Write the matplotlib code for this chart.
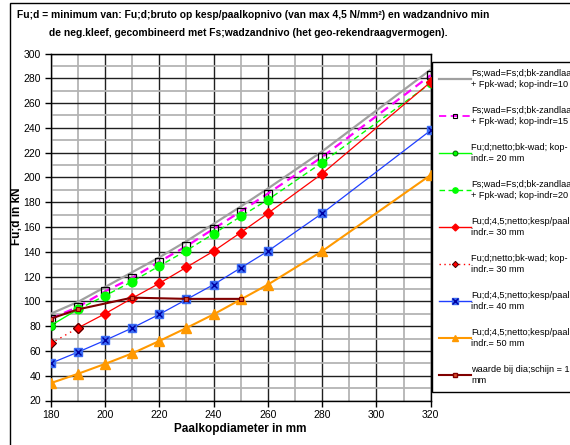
import numpy as np
import matplotlib
matplotlib.use("Agg")
import matplotlib.pyplot as plt
from matplotlib.lines import Line2D
from matplotlib.legend_handler import HandlerTuple
from matplotlib.ticker import MultipleLocator

plt.rcParams['font.family'] = ['Liberation Sans', 'DejaVu Sans']

# ---------------- data ----------------
diam = [180, 190, 200, 210, 220, 230, 240, 250, 260, 280, 320]
fs_wad_10 = [90, 99.5, 111.5, 123.5, 135.5, 148.5, 162.5, 176.5, 191, 221, 287]
fs_wad_15 = [86, 95.5, 108, 119, 132, 144.5, 158.5, 172.5, 187, 216.5, 282.5]
fs_wad_20 = [np.nan, 93.5, 104.5, 116, 128.5, 141, 154.5, 168.5, 182, 212, 276]
fu_kesp_30 = [np.nan, 78.5, 90, 102.5, 114.5, 127.5, 140.5, 155.5, 171, 203, 277]
fu_kesp_40 = [50, 59, 68.5, 78.5, 89.5, 101.5, 113.5, 127, 140.5, 171, 238]
fu_kesp_50 = [34, 41.5, 49.5, 58, 68, 78.5, 89.5, 101.5, 113.5, 140.5, 202]

diam_bkwad = [180, 190]
fu_bkwad_20 = [80.5, 93.5]
fu_bkwad_30 = [66, 78.5]

diam_schijn = [180, 190, 210, 230, 250]
schijn_150 = [86, 93.5, 103, 102, 102]

labels = [
    "Fs;wad=Fs;d;bk-zandlaag\n+ Fpk-wad; kop-indr=10 mm",
    "Fs;wad=Fs;d;bk-zandlaag\n+ Fpk-wad; kop-indr=15 mm",
    "Fu;d;netto;bk-wad; kop-\nindr.= 20 mm",
    "Fs;wad=Fs;d;bk-zandlaag\n+ Fpk-wad; kop-indr=20 mm",
    "Fu;d;4,5;netto;kesp/paalkop-\nindr.= 30 mm",
    "Fu;d;netto;bk-wad; kop-\nindr.= 30 mm",
    "Fu;d;4,5;netto;kesp/paalkop-\nindr.= 40 mm",
    "Fu;d;4,5;netto;kesp/paalkop-\nindr.= 50 mm",
    "waarde bij dia;schijn = 150\nmm",
]

title1 = "Fu;d = minimum van: Fu;d;bruto op kesp/paalkopnivo (van max 4,5 N/mm\u00b2) en wadzandnivo min"
title2 = "de neg.kleef, gecombineerd met Fs;wadzandnivo (het geo-rekendraagvermogen)."

# ---------------- figure ----------------
W, H = 570, 445
fig = plt.figure(figsize=(W / 100, H / 100), dpi=100)
ax = fig.add_axes([50.7 / W, 1 - 400.5 / H, 380 / W, 347 / H])

# outer chart border
fig.patches.append(plt.Rectangle((10 / W, -0.1), 1.2, 1 - 3 / H + 0.1,
                                 transform=fig.transFigure, fill=False,
                                 edgecolor='black', linewidth=1.0, zorder=0))

GREY = '#a0a0a0'
MAG = '#ff00ff'
GRN = '#00ff00'
RED = '#ff0000'
BLUE = '#1f3fff'
BLUEF = '#3a6cf4'
ORG = '#ff9900'
BRN = '#800000'

ax.plot(diam, fs_wad_10, color=GREY, lw=1.6, zorder=3)
ax.plot(diam, fs_wad_15, color=MAG, lw=1.6, ls=(0, (4, 2.5)), marker='s', ms=5.5,
        mfc='none', mec='black', mew=0.9, zorder=3)
ax.plot(diam_bkwad, fu_bkwad_20, color=GRN, lw=1.0, marker='o', ms=6,
        mfc=GRN, mec='#00b000', mew=0.7, zorder=3)
ax.plot(diam, fs_wad_20, color=GRN, lw=1.0, ls=(0, (4, 2.5)), marker='o', ms=6.2,
        mfc=GRN, mec=GRN, zorder=3)
ax.plot(diam, fu_kesp_30, color=RED, lw=0.9, marker='D', ms=5,
        mfc=RED, mec=RED, zorder=4)
ax.plot(diam_bkwad, fu_bkwad_30, color=RED, lw=1.0, ls=(0, (1, 3)), marker='D', ms=5,
        mfc=RED, mec='#400000', mew=0.8, zorder=4)
ax.plot(diam, fu_kesp_40, color=BLUE, lw=0.9, marker='s', ms=5.5,
        mfc=BLUEF, mec=BLUEF, zorder=4)
ax.plot(diam, fu_kesp_40, ls='none', marker='x', ms=4, mec='#0000a0', mew=1.0, zorder=5)
ax.plot(diam, fu_kesp_50, color=ORG, lw=1.5, marker='^', ms=6.5,
        mfc=ORG, mec=ORG, zorder=4)
ax.plot(diam_schijn, schijn_150, color=BRN, lw=1.5, marker='s', ms=2.8,
        mfc='#e05030', mec=BRN, mew=0.8, zorder=6)

ax.set_xlim(180, 320)
ax.set_ylim(20, 300)
ax.xaxis.set_major_locator(MultipleLocator(20))
ax.xaxis.set_minor_locator(MultipleLocator(10))
ax.yaxis.set_major_locator(MultipleLocator(20))
ax.yaxis.set_minor_locator(MultipleLocator(10))
ax.grid(which='major', color='#202020', lw=1.0, zorder=1)
ax.grid(which='minor', color='#b4b4b4', lw=1.3, zorder=0.5)
ax.set_axisbelow(True)
for s in ax.spines.values():
    s.set_color('black')
    s.set_linewidth(1.0)
ax.tick_params(which='major', direction='out', length=4, width=1, labelsize=7.5,
               pad=3, colors='black')
ax.tick_params(which='minor', length=0)
ax.set_xlabel("Paalkopdiameter in mm", fontsize=8.5, fontweight='bold', labelpad=2)
ax.set_ylabel("Fu;d in kN", fontsize=8.5, fontweight='bold')
ax.yaxis.set_label_coords((23.5 - 50.7) / 380, 0.53)

fig.text(17 / W, 1 - 15 / H, title1, fontsize=7.4, fontweight='bold',
         ha='left', va='center')
fig.text(49 / W, 1 - 33 / H, title2, fontsize=7.4, fontweight='bold',
         ha='left', va='center')

# legend proxies
h1 = Line2D([], [], color=GREY, lw=1.6)
h2 = Line2D([], [], color=MAG, lw=1.3, ls=(0, (4, 2.5)), marker='s', ms=3.5,
            mfc='none', mec='black', mew=0.8)
h3 = Line2D([], [], color=GRN, lw=1.0, marker='o', ms=3.5, mfc=GRN, mec='#006000', mew=0.7)
h4 = Line2D([], [], color=GRN, lw=1.0, ls=(0, (4, 2.5)), marker='o', ms=3.8, mfc=GRN, mec=GRN)
h5 = Line2D([], [], color=RED, lw=1.0, marker='D', ms=3.5, mfc=RED, mec=RED)
h6 = Line2D([], [], color=RED, lw=1.0, ls=(0, (1, 2.5)), marker='D', ms=3.2,
            mfc=RED, mec='#400000', mew=0.7)
h7a = Line2D([], [], color=BLUE, lw=1.0, marker='s', ms=5, mfc=BLUEF, mec=BLUEF)
h7b = Line2D([], [], ls='none', marker='x', ms=3.8, mec='#0000a0', mew=1.0)
h8 = Line2D([], [], color=ORG, lw=1.5, marker='^', ms=4.5, mfc=ORG, mec=ORG)
h9 = Line2D([], [], color=BRN, lw=1.5, marker='s', ms=2.5, mfc='#e05030', mec=BRN)

leg = fig.legend([h1, h2, h3, h4, h5, h6, (h7a, h7b), h8, h9], labels,
                 loc='upper left', bbox_to_anchor=(432 / W, 1 - 62 / H),
                 bbox_transform=fig.transFigure,
                 fontsize=6.6, frameon=True, fancybox=False, edgecolor='black',
                 framealpha=1, handlelength=3.4, handletextpad=0.1,
                 labelspacing=1.92, borderpad=0.8, borderaxespad=0,
                 handler_map={tuple: HandlerTuple(ndivide=1)})
leg.get_frame().set_linewidth(1.0)

fig.savefig("out.png", dpi=100)
